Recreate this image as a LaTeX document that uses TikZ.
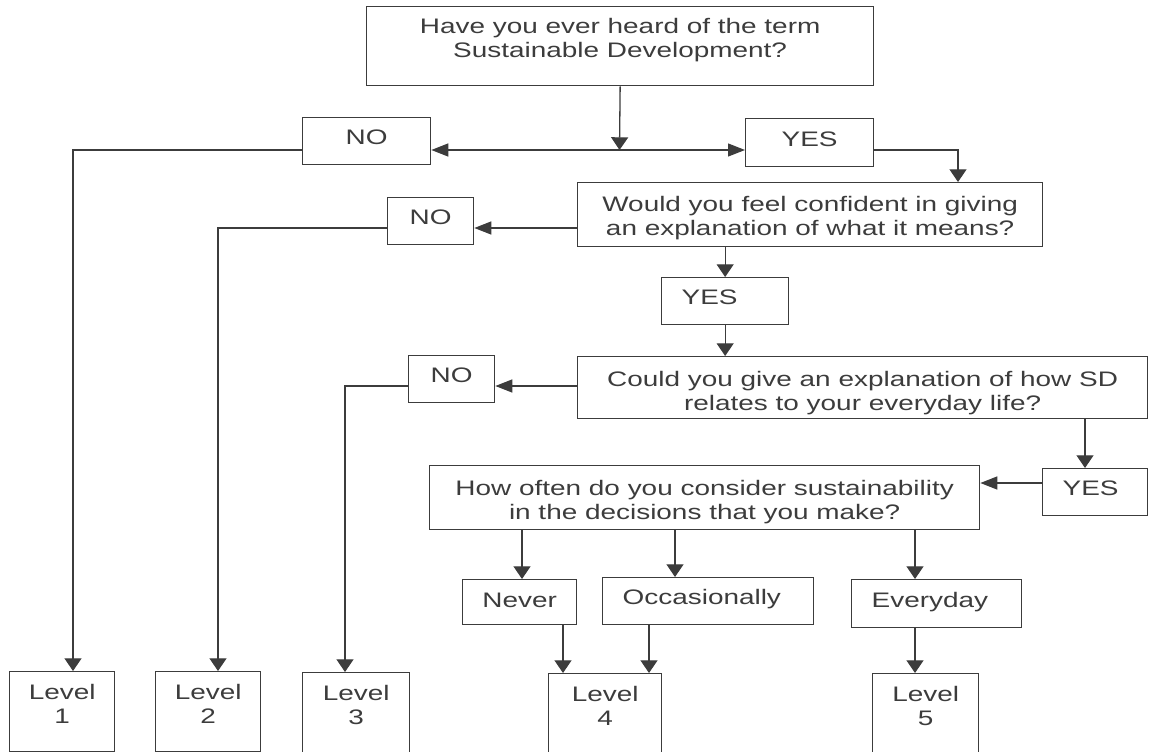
\documentclass[tikz,border=0pt]{standalone}
\usepackage{fontspec}
\setmainfont{Liberation Sans}[FakeStretch=1.33]
\usetikzlibrary{arrows.meta}
\definecolor{ink}{HTML}{3C3C3C}

\begin{document}
\begin{tikzpicture}[x=1pt,y=-1pt,
	box/.style={draw=ink, line width=1.3pt, text=ink, inner sep=0pt, anchor=north west,
		align=center, font=\fontsize{21pt}{24pt}\selectfont},
	one/.style={box, text height=15pt, text depth=8pt},
	lone/.style={one, align=left, inner xsep=20pt},
	level/.style={box, minimum height=80pt, text height=38pt, text depth=15pt},
	flow/.style={draw=ink, line width=1.3pt, -{Triangle[length=12.7pt,width=17pt]}},
	flowh/.style={draw=ink, line width=1.3pt, -{Triangle[length=17pt,width=13pt]}}]
	\useasboundingbox (0,0) rectangle (1149,752);

	\node[box, minimum width=507pt, minimum height=79pt, text height=38pt, text depth=15pt] (q1) at (366,6) {Have you ever heard of the term\\Sustainable Development?};
	\node[one, minimum width=128pt, minimum height=47pt] (no1) at (302,117) {NO};
	\node[one, minimum width=128pt, minimum height=48pt] (yes1) at (745,118) {YES};

	\node[box, minimum width=465pt, minimum height=64pt, text height=41pt, text depth=0pt] (q2) at (577,182) {Would you feel confident in giving\\an explanation of what it means?};
	\node[one, minimum width=86pt, minimum height=47pt] (no2) at (387,197) {NO};
	\node[lone, text width=87pt, minimum height=47pt] (yes2) at (661,277) {YES};

	\node[box, minimum width=570pt, minimum height=62pt, text height=45pt, text depth=0pt] (q3) at (577,356) {Could you give an explanation of how SD\\relates to your everyday life?};
	\node[one, minimum width=86pt, minimum height=47pt] (no3) at (408,355) {NO};
	\node[lone, text width=65pt, minimum height=47pt] (yes3) at (1042,468) {YES};

	\node[box, minimum width=550pt, minimum height=64pt, text height=43pt, text depth=0pt] (q4) at (429,465) {How often do you consider sustainability\\in the decisions that you make?};
	\node[one, minimum width=114pt, minimum height=45pt, text depth=4pt] (never) at (462,579) {Never};
	\node[lone, text width=171pt, minimum height=47pt] (occ) at (602,577) {Occasionally};
	\node[lone, text width=130pt, minimum height=48pt] (every) at (851,579) {Everyday};

	\node[level, minimum width=105pt] (lv1) at (9,671) {Level\\1};
	\node[level, minimum width=105pt] (lv2) at (155,671) {Level\\2};
	\node[level, minimum width=107pt] (lv3) at (302,672) {Level\\3};
	\node[level, minimum width=113pt] (lv4) at (548,673) {Level\\4};
	\node[level, minimum width=106pt] (lv5) at (872,673) {Level\\5};

	\coordinate (j1) at (619.5,150);
	\coordinate (k1) at (73,150);
	\coordinate (k2) at (958,150);
	\coordinate (k3) at (218,228);
	\coordinate (k4) at (345,386);
	\coordinate (k5) at (1085,483);
	\coordinate (d1) at (522,550);
	\coordinate (d2) at (675,550);
	\coordinate (d3) at (915,550);
	\coordinate (e1) at (563,650);
	\coordinate (e2) at (649,650);

	\draw[flow] (q1.south) -- (j1);
	\draw[flowh] (j1) -- (j1 -| no1.east);
	\draw[flowh] (j1) -- (j1 -| yes1.west);
	\draw[flow] (k1 -| no1.west) -- (k1) -- (k1 |- lv1.north);
	\draw[flow] (k2 -| yes1.east) -- (k2) -- (k2 |- q2.north);

	\draw[flowh] (k3 -| q2.west) -- (k3 -| no2.east);
	\draw[flow] (k3 -| no2.west) -- (k3) -- (k3 |- lv2.north);
	\draw[flow] (yes2.north |- q2.south) -- (yes2.north);
	\draw[flow] (yes2.south) -- (yes2.south |- q3.north);

	\draw[flowh] (k4 -| q3.west) -- (k4 -| no3.east);
	\draw[flow] (k4 -| no3.west) -- (k4) -- (k4 |- lv3.north);
	\draw[flow] (k5 |- q3.south) -- (k5 |- yes3.north);
	\draw[flowh] (k5 -| yes3.west) -- (k5 -| q4.east);

	\draw[flow] (d1 |- q4.south) -- (d1 |- never.north);
	\draw[flow] (d2 |- q4.south) -- (d2 |- occ.north);
	\draw[flow] (d3 |- q4.south) -- (d3 |- every.north);
	\draw[flow] (e1 |- never.south) -- (e1 |- lv4.north);
	\draw[flow] (e2 |- occ.south) -- (e2 |- lv4.north);
	\draw[flow] (d3 |- every.south) -- (d3 |- lv5.north);
\end{tikzpicture}
\end{document}
